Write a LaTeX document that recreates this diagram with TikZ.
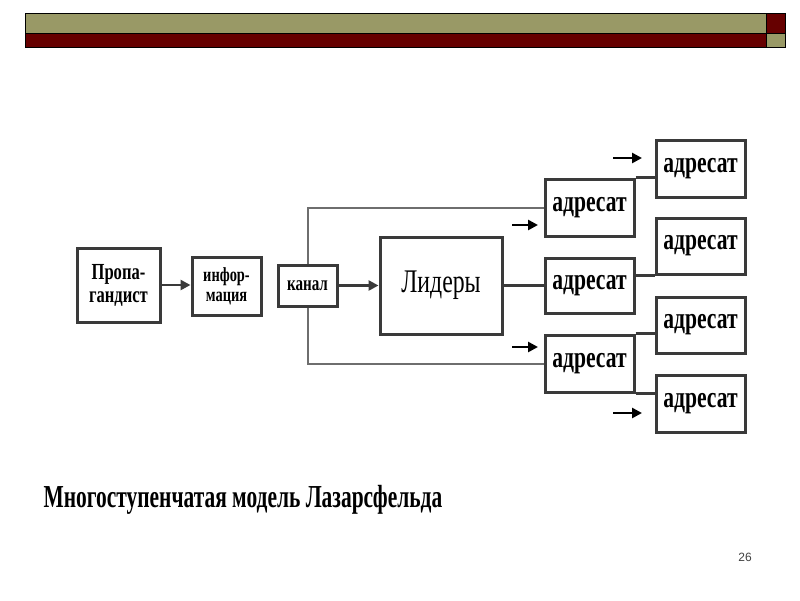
\documentclass[tikz,border=0pt]{standalone}
\usepackage{fontspec}
\setmainfont{Liberation Serif}
\setsansfont{Liberation Sans}
\newfontfamily\condserif[FakeStretch=0.72]{Liberation Serif}
\newfontfamily\titleserif[FakeStretch=0.67]{Liberation Serif}
\usetikzlibrary{arrows.meta, positioning, calc}
\definecolor{colive}{HTML}{999966}
\definecolor{cmaroon}{HTML}{660000}
\definecolor{cline}{HTML}{3A3A3A}
\definecolor{clight}{HTML}{6E6E6E}
\tikzset{
  every picture/.style={x=1pt, y=-1pt, line width=2.5pt},
  box/.style={draw=cline, line width=3pt, align=center, inner sep=0pt, minimum width=#1},
  box/.default=89pt,
  bold/.style={font=\condserif\bfseries\fontsize{#1}{#1}\selectfont},
  bold/.default=30,
  arrow/.style={-{Triangle[length=10pt, width=10pt]}, draw=cline, line width=2.5pt},
  link/.style={draw=cline, line width=2.5pt},
  thinlink/.style={draw=clight, line width=2pt},
  title/.style={font=\titleserif\bfseries\fontsize{32}{32}\selectfont, anchor=base west},
  note/.style={font=\sffamily\fontsize{12}{12}\selectfont, text=black!75},
}

\begin{document}
\begin{tikzpicture}
  \useasboundingbox (0,0) rectangle (800,600);
  \fill[white] (0,0) rectangle (800,600);
  % header bars
  \draw[fill=colive, line width=0.8pt] (25,13) rectangle (766,33);
  \draw[fill=cmaroon, line width=0.8pt] (25,33) rectangle (766,47);
  \draw[fill=cmaroon, line width=0.8pt] (766,13) rectangle (785,33);
  \draw[fill=colive, line width=0.8pt] (766,33) rectangle (785,47);
  % sender chain
  \node[box=83pt, minimum height=74pt, bold=23] (prop) at (118.5,285) {Пропа-\\гандист};
  \node[box=69pt, minimum height=58pt, bold=20] (info) at (226.5,286) {инфор-\\мация};
  \node[box=59pt, minimum height=41pt, bold=21] (kanal) at (307.5,285.5) {канал};
  \node[box=122pt, minimum height=97pt, font=\condserif\fontsize{33}{33}\selectfont] (lid) at (441,285.5) {Лидеры};
  % first receivers
  \node[box, minimum height=57pt, bold] (a1) at (589.5,207.5) {адресат};
  \node[box, minimum height=55pt, bold] (a2) at (589.5,285.5) {адресат};
  \node[box, minimum height=57pt, bold] (a3) at (589.5,363.5) {адресат};
  % second receivers
  \node[box, minimum height=57pt, bold] (b1) at (700.5,168.5) {адресат};
  \node[box, minimum height=56pt, bold] (b2) at (700.5,246) {адресат};
  \node[box, minimum height=56pt, bold] (b3) at (700.5,325) {адресат};
  \node[box, minimum height=57pt, bold] (b4) at (700.5,403.5) {адресат};
  % connectors
  \draw[arrow] (prop.east) -- (prop.east -| info.west);
  \draw[arrow] (kanal.east) -- (kanal.east -| lid.west);
  \draw[thinlink] (kanal.north) |- (a1.west);
  \draw[thinlink] (kanal.south) |- (a3.west);
  \draw[link] (lid.east) -- (lid.east -| a2.west);
  \draw[link] (a1.north east) -- (a1.north east -| b1.west);
  \draw[link] (b2.south west) -- (b2.south west -| a2.east);
  \draw[link] (a3.north east) -- (a3.north east -| b3.west);
  \draw[link] (a3.south east) -- (a3.south east -| b4.west);
  % loose arrows
  \coordinate (p1) at (512,225); \coordinate (q1) at (538,225);
  \coordinate (p2) at (512,347); \coordinate (q2) at (538,347);
  \coordinate (p3) at (613,158); \coordinate (q3) at (642,158);
  \coordinate (p4) at (613,413); \coordinate (q4) at (642,413);
  \foreach \i in {1,...,4} \draw[arrow, draw=black] (p\i) -- (q\i);
  % caption
  \node[title] (ttl) at (39,507) {Многоступенчатая модель Лазарсфельда};
  \node[note] (pg) at (745,557) {26};
\end{tikzpicture}
\end{document}
